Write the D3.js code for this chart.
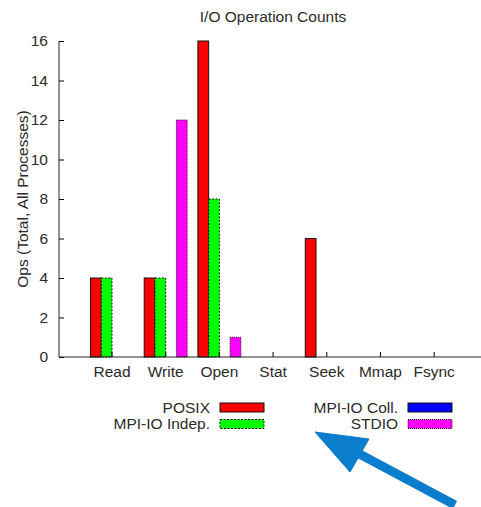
<!DOCTYPE html>
<html>
<head>
<meta charset="utf-8">
<script src="https://cdn.jsdelivr.net/npm/d3@7"></script>
<style>
  body { margin: 0; background: #fff; }
  text { font-family: "Liberation Sans", Arial, sans-serif; fill: #2a2a2a; }
</style>
</head>
<body>
<script>
// data
let categories = ['Read', 'Write', 'Open', 'Stat', 'Seek', 'Mmap', 'Fsync'];
let seriesNames = ['POSIX', 'MPI-IO Indep.', 'MPI-IO Coll.', 'STDIO'];
let posix = [4, 4, 16, 0, 6, 0, 0];
let mpiIndep = [4, 4, 8, 0, 0, 0, 0];
let mpiColl = [0, 0, 0, 0, 0, 0, 0];
let stdio = [0, 12, 1, 0, 0, 0, 0];
let yTicks = [0, 2, 4, 6, 8, 10, 12, 14, 16];

let colors = ['#ff0000', '#00ff00', '#0000ff', '#ff00ff'];
let dashes = [null, '2,1.5', null, '1,1'];
let values = [posix, mpiIndep, mpiColl, stdio];

let width = 481, height = 507;
let plotLeft = 59, plotRight = 481, plotTop = 41, plotBottom = 357;
let fs = '15.5px';

let svg = d3.select('body').append('svg')
    .attr('width', width)
    .attr('height', height);

// scales
let x = d3.scaleBand().domain(categories).range([85.15, 461]).paddingInner(0.2).paddingOuter(0.1);
let x1 = d3.scaleBand().domain(seriesNames).range([0, x.bandwidth()]);
let y = d3.scaleLinear().domain([0, 16]).range([plotBottom, plotTop]);

// bars
let bars = [];
seriesNames.forEach(function(s, j) {
    categories.forEach(function(c, i) {
        if (values[j][i] > 0) bars.push({cat: c, s: s, j: j, v: values[j][i]});
    });
});
svg.selectAll('rect.bar')
    .data(bars)
    .enter()
    .append('rect')
    .attr('class', 'bar')
    .attr('x', function(d) { return x(d.cat) + x1(d.s); })
    .attr('y', function(d) { return y(d.v); })
    .attr('width', x1.bandwidth())
    .attr('height', function(d) { return y(0) - y(d.v); })
    .attr('fill', function(d) { return colors[d.j]; })
    .attr('stroke', '#111')
    .attr('stroke-width', 1)
    .attr('stroke-dasharray', function(d) { return dashes[d.j]; });

// axes, ticks pointing inward
let axisY = d3.axisLeft(y).tickValues(yTicks).tickSize(-5).tickPadding(11);
let gy = svg.append('g').attr('transform', `translate(${plotLeft},0)`).call(axisY);
gy.select('.domain').remove();
gy.selectAll('text').style('font-size', fs).attr('fill', '#2a2a2a');

let axisX = d3.axisBottom(x).tickSize(-5).tickPadding(9);
let gx = svg.append('g').attr('transform', `translate(0,${plotBottom})`).call(axisX);
gx.select('.domain').remove();
gx.selectAll('text').style('font-size', fs).attr('fill', '#2a2a2a');

svg.append('line').attr('x1', plotLeft).attr('x2', plotLeft).attr('y1', plotTop).attr('y2', plotBottom).attr('stroke', '#222');
svg.append('line').attr('x1', plotLeft).attr('x2', plotRight).attr('y1', plotBottom).attr('y2', plotBottom).attr('stroke', '#222');

// title and y label
svg.append('text')
    .attr('x', 273).attr('y', 22)
    .attr('text-anchor', 'middle')
    .style('font-size', fs)
    .text('I/O Operation Counts');

svg.append('text')
    .attr('transform', `translate(28,${(plotTop + plotBottom) / 2}) rotate(-90)`)
    .attr('text-anchor', 'middle')
    .style('font-size', fs)
    .text('Ops (Total, All Processes)');

// legend: two columns, two rows
let legend = svg.append('g');
let lg = legend.selectAll('g')
    .data(seriesNames)
    .enter()
    .append('g')
    .attr('transform', function(d, i) {
        return `translate(${210 + Math.floor(i / 2) * 188},${407.5 + (i % 2) * 16.5})`;
    });
lg.append('text')
    .attr('text-anchor', 'end')
    .attr('dy', '0.35em')
    .style('font-size', fs)
    .text(function(d) { return d; });
lg.append('rect')
    .attr('x', 10).attr('y', -4.5)
    .attr('width', 44).attr('height', 9)
    .attr('fill', function(d, i) { return colors[i]; })
    .attr('stroke', '#111')
    .attr('stroke-dasharray', function(d, i) { return dashes[i]; });

// blue arrow annotation
let arrow = svg.append('g').attr('fill', '#0a7dcc').attr('stroke', '#0a7dcc');
arrow.append('line')
    .attr('x1', 455).attr('y1', 505).attr('x2', 352).attr('y2', 450)
    .attr('stroke-width', 9);
arrow.append('polygon')
    .attr('points', '315,432 369,439 350,472')
    .attr('stroke-width', 1);
</script>
</body>
</html>
